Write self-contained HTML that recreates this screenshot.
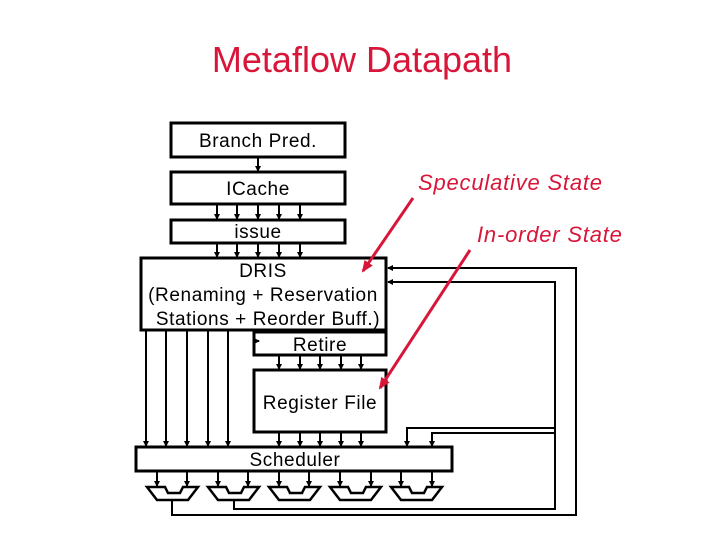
<!DOCTYPE html>
<html><head><style>
body{margin:0;background:#fff;width:720px;height:540px;overflow:hidden}
svg{display:block}
text{font-family:"Liberation Sans",sans-serif}
</style></head><body>
<svg width="720" height="540" viewBox="0 0 720 540">
<defs>
<marker id="a" markerWidth="6" markerHeight="6" refX="5" refY="3" orient="auto" markerUnits="userSpaceOnUse"><path d="M0,0L6,3L0,6z" fill="#000"/></marker>
<marker id="r" markerWidth="12" markerHeight="10" refX="10" refY="5" orient="auto" markerUnits="userSpaceOnUse"><path d="M0,0L12,5L0,10z" fill="#d8163a"/></marker>
</defs>
<text x="362" y="72" font-size="36" fill="#d8163a" text-anchor="middle">Metaflow Datapath</text>
<g fill="none" stroke="#000" stroke-width="3">
<rect x="171" y="123" width="174" height="34"/>
<rect x="171" y="172" width="174" height="32"/>
<rect x="171" y="220" width="174" height="23"/>
<rect x="141" y="258" width="245" height="72"/>
<rect x="254" y="332" width="132" height="23"/>
<rect x="254" y="370" width="132" height="62"/>
<rect x="136" y="447" width="316" height="24"/>
</g>
<g stroke="#000" stroke-width="2" fill="none" marker-end="url(#a)">
<path d="M258 157V171"/>
<path d="M217 204V219"/><path d="M237 204V219"/><path d="M258 204V219"/><path d="M279 204V219"/><path d="M300 204V219"/>
<path d="M217 243V257"/><path d="M237 243V257"/><path d="M258 243V257"/><path d="M279 243V257"/><path d="M300 243V257"/>
<path d="M146 330V446"/><path d="M166 330V446"/><path d="M187 330V446"/><path d="M208 330V446"/><path d="M228 330V446"/>
<path d="M279 355V369"/><path d="M300 355V369"/><path d="M320 355V369"/><path d="M341 355V369"/><path d="M361 355V369"/>
<path d="M279 432V446"/><path d="M300 432V446"/><path d="M320 432V446"/><path d="M341 432V446"/><path d="M361 432V446"/>
<path d="M157 471V486"/><path d="M187 471V486"/><path d="M218 471V486"/><path d="M248 471V486"/><path d="M279 471V486"/><path d="M309 471V486"/><path d="M340 471V486"/><path d="M371 471V486"/><path d="M401 471V486"/><path d="M432 471V486"/>
<path d="M172 500V515H576V268H388"/>
<path d="M234 500V509H555V282H388"/>
<path d="M555 428H407V446"/>
<path d="M555 433H432V446"/>
<path d="M254 341H259"/>
</g>
<g font-size="19" letter-spacing="0.6" text-anchor="middle" fill="#000">
<text x="258" y="147">Branch Pred.</text>
<text x="258" y="195">ICache</text>
<text x="258" y="238">issue</text>
<text x="263" y="277">DRIS</text>
<text x="263" y="301">(Renaming + Reservation</text>
<text x="268" y="325">Stations + Reorder Buff.)</text>
<text x="320" y="351">Retire</text>
<text x="320" y="409">Register File</text>
<text x="295" y="466">Scheduler</text>
</g>
<g font-size="22" letter-spacing="0.8" font-style="italic" fill="#d8163a">
<text x="418" y="190">Speculative State</text>
<text x="477" y="242">In-order State</text>
</g>
<g stroke="#d8163a" stroke-width="3" fill="none" marker-end="url(#r)">
<path d="M413 198L363 271"/>
<path d="M470 250L380 388"/>
</g>
<g fill="none" stroke="#000" stroke-width="2.5">
<path d="M147 487H165L168 493H180L183 487H198L188 500H157Z"/>
<path d="M208 487H226L229 493H241L244 487H259L249 500H218Z"/>
<path d="M269 487H287L290 493H302L305 487H320L310 500H279Z"/>
<path d="M330 487H348L351 493H363L366 487H381L371 500H340Z"/>
<path d="M391 487H409L412 493H424L427 487H442L432 500H401Z"/>
</g>
</svg>
</body></html>
